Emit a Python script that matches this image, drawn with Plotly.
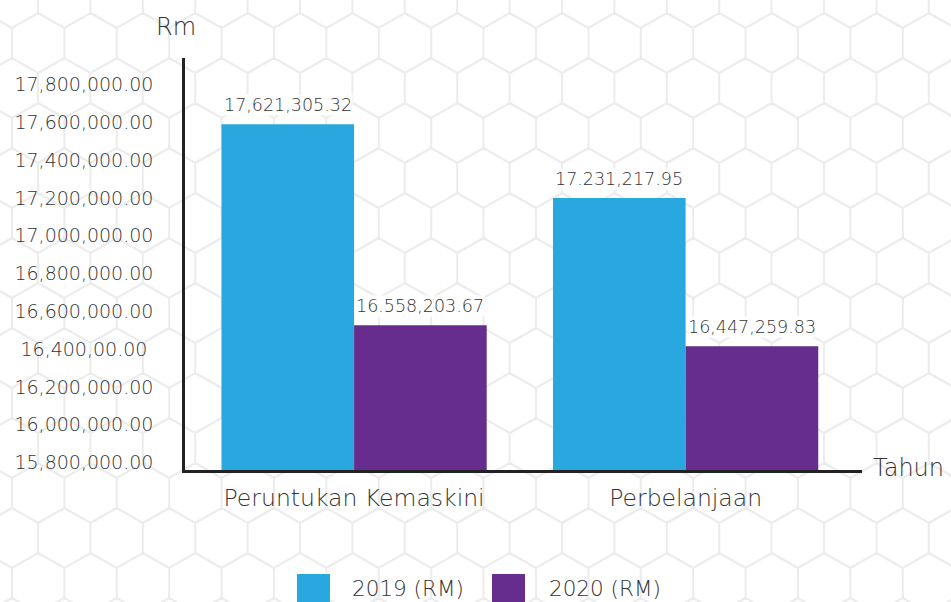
import plotly.graph_objects as go

# ---------------- data ----------------
categories = ["Peruntukan Kemaskini", "Perbelanjaan"]
series_names = ["2019 (RM)", "2020 (RM)"]
values_2019 = [17621305.32, 17231217.95]
values_2020 = [16558203.67, 16447259.83]
labels_2019 = ["17,621,305.32", "17.231,217.95"]
labels_2020 = ["16.558,203.67", "16,447,259.83"]
tick_values = [15800000, 16000000, 16200000, 16400000, 16600000, 16800000,
               17000000, 17200000, 17400000, 17600000, 17800000]
tick_labels = ["15,800,000.00", "16,000,000.00", "16,200,000.00", "16,400,00.00\u00a0",
               "16,600,000.00", "16,800,000.00", "17,000,000.00", "17,200,000.00",
               "17,400,000.00", "17,600,000.00", "17,800,000.00"]
y_title = "Rm"
x_title = "Tahun"

# ---------------- style ----------------
W, H = 951, 602
L, R, T, B = 185, 89, 58, 132
FONT = "DejaVu Sans"
TXT = "#333333"
COLORS = ["#29A8E0", "#662D8E"]
HEX_COLOR = "#ececec"


def px(x, y):
    """pixel position in the page -> paper coordinates"""
    return (x - L) / (W - L - R), (H - B - y) / (H - T - B)


fig = go.Figure()
fig.add_trace(go.Bar(x=categories, y=values_2019, name=series_names[0],
                     marker=dict(color=COLORS[0], line=dict(width=0)), showlegend=False))
fig.add_trace(go.Bar(x=categories, y=values_2020, name=series_names[1],
                     marker=dict(color=COLORS[1], line=dict(width=0)), showlegend=False))

# data labels above bars
annotations = []
for vals, labs, off in ((values_2019, labels_2019, -0.2), (values_2020, labels_2020, 0.2)):
    for i, (v, t) in enumerate(zip(vals, labs)):
        annotations.append(dict(x=i + off, y=v, xref="x", yref="y", text=t, showarrow=False,
                                yanchor="bottom", xanchor="center", yshift=8,
                                bgcolor="white", borderpad=0,
                                font=dict(family=FONT, size=17.5, color=TXT, weight=300)))

# axis titles
ax, ay = px(176, 27)
annotations.append(dict(x=ax, y=ay, xref="paper", yref="paper", text=y_title, showarrow=False,
                        xanchor="center", yanchor="middle",
                        font=dict(family=FONT, size=24, color=TXT, weight=300)))
ax, ay = px(871, 468)
annotations.append(dict(x=ax, y=ay, xref="paper", yref="paper", text=x_title, showarrow=False,
                        xanchor="left", yanchor="middle",
                        font=dict(family=FONT, size=24, color=TXT, weight=300)))

# manual legend (large square swatches)
shapes = []
for name, col, sx, tx in zip(series_names, COLORS, (297, 492), (350, 547)):
    x0, y0 = px(sx, 610)
    x1, y1 = px(sx + 33, 574)
    shapes.append(dict(type="rect", xref="paper", yref="paper", x0=x0, y0=y0, x1=x1, y1=y1,
                       fillcolor=col, line=dict(width=0), layer="above"))
    lx, ly = px(tx, 588)
    annotations.append(dict(x=lx, y=ly, xref="paper", yref="paper", text=name, showarrow=False,
                            xanchor="left", yanchor="middle",
                            font=dict(family=FONT, size=21.5, color=TXT, weight=300)))

# hexagon background pattern (decoration)
s, w, dy = 30.2, 52.4, 45.0
parts = []
for n in range(-1, 16):
    cy = -2 + dy * n
    cx0 = 64.2 if n % 2 == 0 else 38.2
    for k in range(-2, 21):
        cx = cx0 + w * k
        pts = [(cx, cy - s), (cx + w / 2, cy - s / 2), (cx + w / 2, cy + s / 2),
               (cx, cy + s), (cx - w / 2, cy + s / 2), (cx - w / 2, cy - s / 2)]
        pp = [px(a, b) for a, b in pts]
        parts.append("M" + " L".join(f"{a:.5f},{b:.5f}" for a, b in pp) + " Z")
shapes.insert(0, dict(type="path", xref="paper", yref="paper", path=" ".join(parts),
                      line=dict(color=HEX_COLOR, width=2), layer="below"))

fig.update_layout(
    width=W, height=H,
    margin=dict(l=L, r=R, t=T, b=B, pad=0),
    paper_bgcolor="white", plot_bgcolor="rgba(0,0,0,0)",
    barmode="group", bargap=0.2, bargroupgap=0,
    font=dict(family=FONT, color=TXT, weight=300),
    showlegend=False,
    shapes=shapes, annotations=annotations,
    xaxis=dict(range=[-0.51, 1.532], showline=True, linecolor="#222222", linewidth=2.5,
               showgrid=False, zeroline=False, ticks="",
               tickfont=dict(family=FONT, size=23.5, color=TXT, weight=300),
               ticklabelstandoff=5),
    yaxis=dict(range=[15792500, 17972500], showline=True, linecolor="#222222", linewidth=2.5,
               showgrid=False, zeroline=False, ticks="",
               tickmode="array", tickvals=tick_values, ticktext=tick_labels,
               tickfont=dict(family=FONT, size=19, color=TXT, weight=300),
               ticklabelstandoff=25, ticklabelshift=-6),
)

fig.write_html("out.html", config={"displayModeBar": False},
               post_script="document.body.style.margin='0';document.body.style.overflow='hidden';")
